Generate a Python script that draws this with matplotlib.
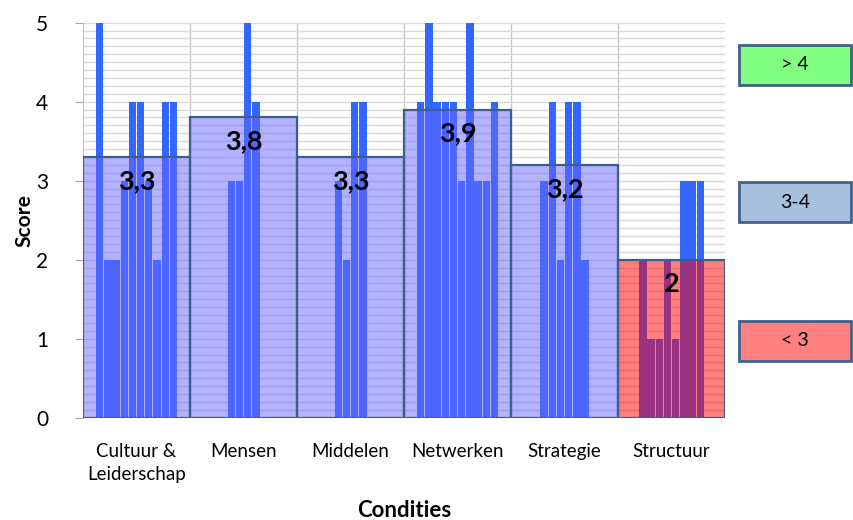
import numpy as np
import matplotlib.pyplot as plt
from matplotlib.patches import Rectangle

plt.rcParams['font.family'] = ['Lato', 'DejaVu Sans']

condities = ['Cultuur &\nLeiderschap', 'Mensen', 'Middelen', 'Netwerken', 'Strategie', 'Structuur']

# individuele scores per respondent (0 = geen antwoord)
cultuur = [5, 2, 2, 3, 4, 4, 3, 2, 4, 4]
mensen = [0, 0, 0, 3, 3, 5, 4, 0, 0, 0]
middelen = [0, 0, 0, 3, 2, 4, 4, 0, 0, 0]
netwerken = [4, 5, 4, 4, 4, 3, 5, 3, 3, 4]
strategie = [0, 0, 3, 4, 2, 4, 4, 2, 0, 0]
structuur = [0, 2, 1, 1, 2, 1, 3, 3, 3, 0]
scores = [cultuur, mensen, middelen, netwerken, strategie, structuur]

# gemiddelde per conditie zoals vermeld
gemiddelde = [3.3, 3.8, 3.3, 3.9, 3.2, 2.0]

fig = plt.figure(figsize=(8.54, 5.2), dpi=100)
ax = fig.add_axes([0.0972, 0.1967, 0.7518, 0.7597])

n = len(cultuur)
slot = 0.0766
for i, s in enumerate(scores):
    xs = i + (np.arange(n) - (n - 1) / 2) * slot
    ax.bar(xs, s, width=slot * 0.9, color='#3366ff', zorder=2)

kleuren = [(0.4, 0.4, 1.0, 0.5)] * 5 + [(1.0, 0.0, 0.0, 0.5)]
x = np.arange(len(condities))
ax.bar(x, gemiddelde, width=1.0, color=kleuren, edgecolor='#3d5f8a',
       linewidth=1.6, zorder=3)

for i, g in enumerate(gemiddelde):
    tekst = ('%g' % g).replace('.', ',')
    ax.annotate(tekst, (i, g), xytext=(0, -23), textcoords='offset points',
                ha='center', va='baseline', fontsize=19.5, fontweight='bold',
                zorder=4)

ax.set_xlim(-0.5, 5.5)
ax.set_ylim(0, 5)
ax.set_yticks(range(6))
ax.set_yticks(np.arange(0, 5.01, 0.1), minor=True)
ax.set_xticks(x)
ax.set_xticklabels(condities, fontsize=13.5, linespacing=1.45)
ax.tick_params(axis='x', length=0, pad=18)
ax.tick_params(axis='y', which='major', length=6, color='#a6a6a6', pad=19, labelsize=15)
ax.tick_params(axis='y', which='minor', length=0)
ax.grid(axis='y', which='both', color='#d9d9d9', linewidth=1)
for b in np.arange(0.5, 5.5, 1):
    ax.axvline(b, color='#c8c8c8', linewidth=1, zorder=0)
ax.set_axisbelow(True)
for kant in ['top', 'right', 'bottom']:
    ax.spines[kant].set_visible(False)
ax.spines['left'].set_color('#bfbfbf')

ax.set_ylabel('Score', fontsize=15, fontweight='bold', labelpad=1)
ax.set_xlabel('Condities', fontsize=16, fontweight='bold', labelpad=12)

# kleurcodes rechts
codes = [('> 4', '#80ff80', 0.8365), ('3-4', '#a8c0de', 0.573), ('< 3', '#ff8080', 0.306)]
for tekst, kleur, y0 in codes:
    fig.add_artist(Rectangle((0.865, y0), 0.132, 0.077, transform=fig.transFigure,
                             facecolor=kleur, edgecolor='#41618c', linewidth=2))
    fig.text(0.931, y0 + 0.0385, tekst, ha='center', va='center', fontsize=14)

plt.savefig('out.png')
